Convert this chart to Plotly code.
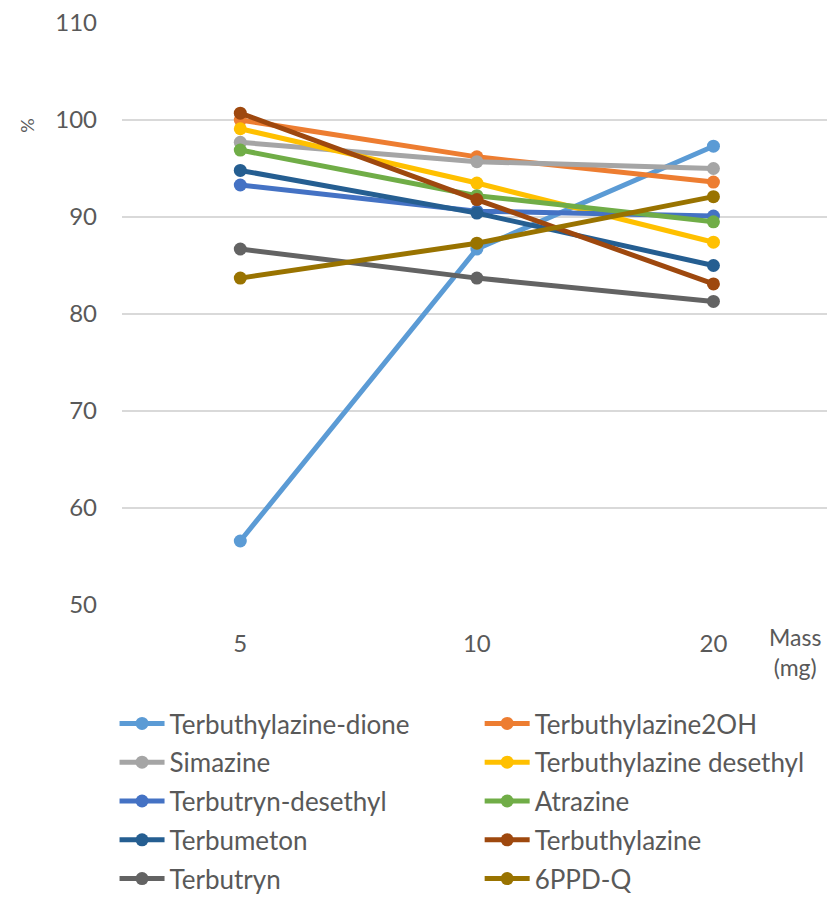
import plotly.graph_objects as go

# Sample mass categories (mg)
mass = ["5", "10", "20"]

# Recovery (%) per compound at each mass
terbuthylazine_dione = [56.6, 86.7, 97.3]
terbuthylazine_2oh = [100.0, 96.2, 93.6]
simazine = [97.7, 95.7, 95.0]
terbuthylazine_desethyl = [99.1, 93.5, 87.4]
terbutryn_desethyl = [93.3, 90.6, 90.1]
atrazine = [96.9, 92.2, 89.5]
terbumeton = [94.8, 90.4, 85.0]
terbuthylazine = [100.7, 91.8, 83.1]
terbutryn = [86.7, 83.7, 81.3]
ppd_q = [83.7, 87.3, 92.1]

# (name, values, colour, legend column)
series = [
    ("Terbuthylazine-dione", terbuthylazine_dione, "#5B9BD5", "legend"),
    ("Terbuthylazine2OH", terbuthylazine_2oh, "#ED7D31", "legend2"),
    ("Simazine", simazine, "#A5A5A5", "legend"),
    ("Terbuthylazine desethyl", terbuthylazine_desethyl, "#FFC000", "legend2"),
    ("Terbutryn-desethyl", terbutryn_desethyl, "#4472C4", "legend"),
    ("Atrazine", atrazine, "#70AD47", "legend2"),
    ("Terbumeton", terbumeton, "#255E91", "legend"),
    ("Terbuthylazine", terbuthylazine, "#9E480E", "legend2"),
    ("Terbutryn", terbutryn, "#636363", "legend"),
    ("6PPD-Q", ppd_q, "#997300", "legend2"),
]

FONT = "Lato, Liberation Sans, sans-serif"
TEXT = "#595959"
GRID = "#D9D9D9"

fig = go.Figure()
for name, vals, color, leg in series:
    fig.add_trace(go.Scatter(
        x=mass, y=vals, name=name, mode="lines+markers",
        line=dict(color=color, width=5),
        marker=dict(color=color, size=13),
        legend=leg, legendgroup=name,
    ))

legend_common = dict(
    orientation="v",
    xref="container", yref="container",
    xanchor="left", yanchor="top",
    y=0.2205,
    font=dict(family=FONT, size=26, color=TEXT),
    itemwidth=45,
    traceorder="grouped",
    tracegroupgap=2,
    bgcolor="rgba(0,0,0,0)",
)

fig.update_layout(
    width=827, height=898,
    margin=dict(l=122, r=0, t=23, b=293, autoexpand=False),
    plot_bgcolor="white", paper_bgcolor="white",
    font=dict(family=FONT, color=TEXT, size=24),
    showlegend=True,
    legend=dict(x=0.1385, **legend_common),
    legend2=dict(x=0.58, **legend_common),
    annotations=[
        dict(text="%", xref="paper", yref="y", x=-0.135, y=99.4,
             xanchor="center", yanchor="middle",
             showarrow=False, textangle=-90,
             font=dict(family=FONT, size=18, color=TEXT)),
        dict(text="Mass<br>(mg)", xref="paper", yref="paper",
             x=0.955, y=-0.081, xanchor="center", yanchor="middle",
             showarrow=False, align="center",
             font=dict(family=FONT, size=23, color=TEXT)),
    ],
)

fig.update_xaxes(
    type="category", range=[-0.5, 2.48],
    showgrid=False, zeroline=False, showline=False,
    ticks="", ticklabelstandoff=22,
    tickfont=dict(family=FONT, size=24, color=TEXT),
)
fig.update_yaxes(
    range=[50, 110], dtick=10, tick0=50,
    showgrid=True, gridcolor=GRID, gridwidth=1.5,
    zeroline=False, showline=False,
    ticks="", ticklabelstandoff=24,
    tickfont=dict(family=FONT, size=24, color=TEXT),
)

fig.write_html("out.html")
